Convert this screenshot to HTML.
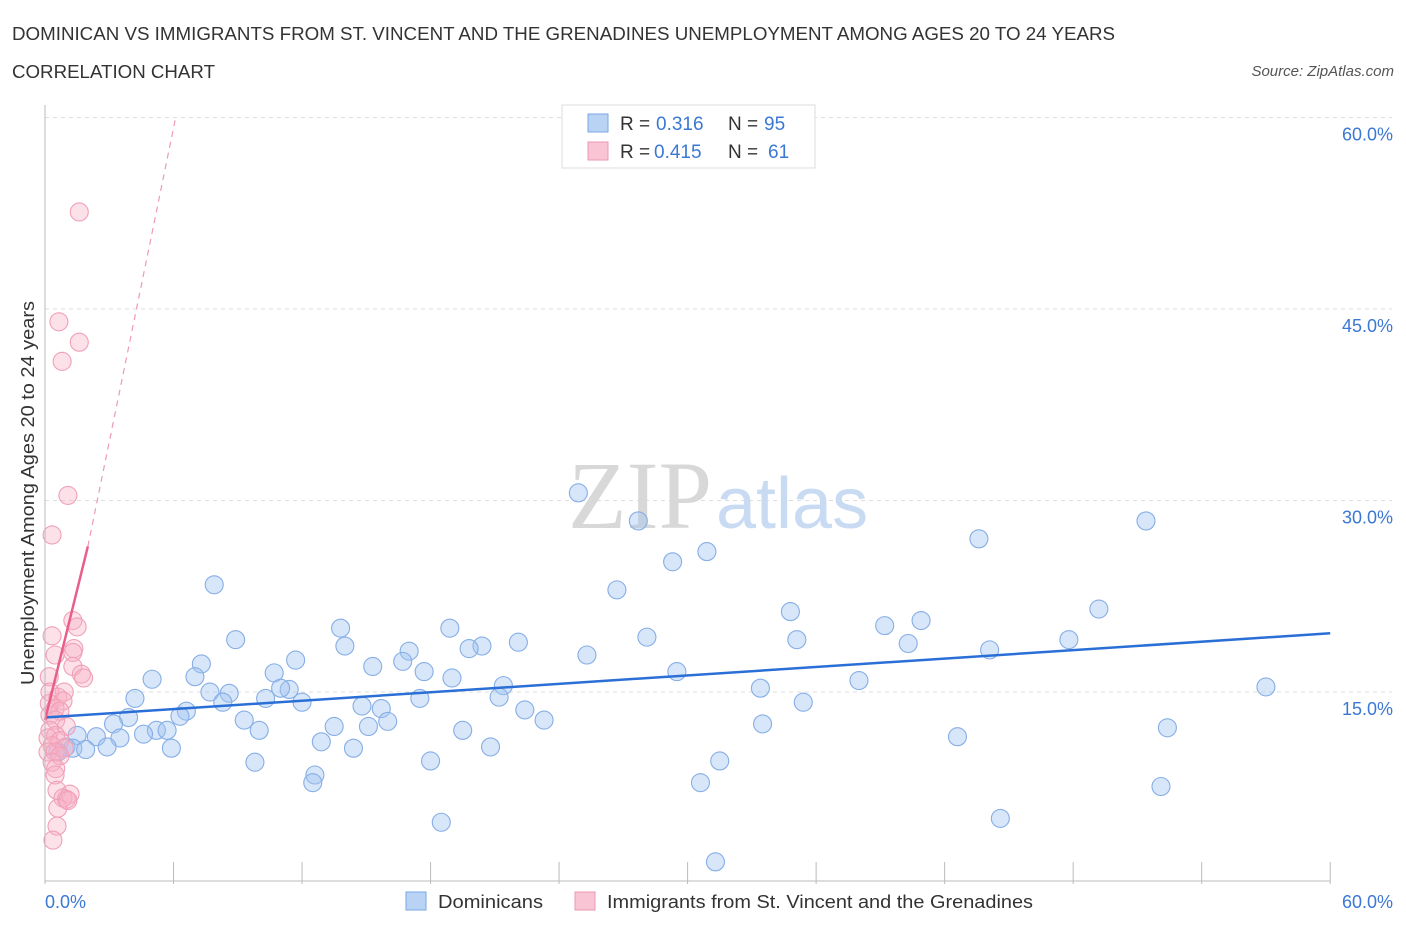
<!DOCTYPE html>
<html><head><meta charset="utf-8"><style>
body{margin:0;background:#fff;font-family:"Liberation Sans",sans-serif;}
</style></head><body>
<svg width="1406" height="930" xmlns="http://www.w3.org/2000/svg">
<text x="12" y="40" font-size="18" fill="#333" textLength="1103" lengthAdjust="spacingAndGlyphs">DOMINICAN VS IMMIGRANTS FROM ST. VINCENT AND THE GRENADINES UNEMPLOYMENT AMONG AGES 20 TO 24 YEARS</text>
<text x="12" y="78" font-size="18" fill="#333" textLength="203" lengthAdjust="spacingAndGlyphs">CORRELATION CHART</text>
<text x="1394" y="76" font-size="15" fill="#555" font-style="italic" text-anchor="end">Source: ZipAtlas.com</text>
<g id="grid"></g>
<text x="712" y="528" font-size="96" fill="#d8d8d8" font-family="Liberation Serif,serif" text-anchor="end">ZIP</text>
<text x="716" y="528" font-size="72" fill="#c9dbf3">atlas</text>
<g id="pts"></g>
<g id="axes"></g>
<text x="34" y="493" font-size="18" fill="#333" text-anchor="middle" transform="rotate(-90 34 493)" textLength="384" lengthAdjust="spacingAndGlyphs">Unemployment Among Ages 20 to 24 years</text>
<text x="45" y="908" font-size="18" fill="#3a78d4">0.0%</text>
<text x="1393" y="908" font-size="18" fill="#3a78d4" text-anchor="end">60.0%</text>
<g>
<rect x="562" y="105" width="253" height="63" fill="#fff" stroke="#ddd"/>
<rect x="588" y="114" width="20" height="18" fill="#b9d3f5" stroke="#7aa6e6"/>
<rect x="588" y="142" width="20" height="18" fill="#f9c4d3" stroke="#ec97b0"/>
<text x="620" y="130" font-size="19" fill="#333">R =</text><text x="656" y="130" font-size="19" fill="#3a78d4">0.316</text>
<text x="728" y="130" font-size="19" fill="#333">N =</text><text x="764" y="130" font-size="19" fill="#3a78d4">95</text>
<text x="620" y="158" font-size="19" fill="#333">R =</text><text x="654" y="158" font-size="19" fill="#3a78d4">0.415</text>
<text x="728" y="158" font-size="19" fill="#333">N =</text><text x="768" y="158" font-size="19" fill="#3a78d4">61</text>
</g>
<g>
<rect x="406" y="892" width="20" height="18" fill="#b9d3f5" stroke="#7aa6e6"/>
<text x="438" y="908" font-size="18" fill="#333" textLength="105" lengthAdjust="spacingAndGlyphs">Dominicans</text>
<rect x="575" y="892" width="20" height="18" fill="#f9c4d3" stroke="#ec97b0"/>
<text x="607" y="908" font-size="18" fill="#333" textLength="426" lengthAdjust="spacingAndGlyphs">Immigrants from St. Vincent and the Grenadines</text>
</g>
</svg>
<script>
const blueX=[24.9,27.7,29.3,30.9,26.7,7.9,43.6,51.4,49.2,34.8,40.9,39.2,13.8,18.9,8.9,28.1,35.1,47.8,40.3,22.1,14.0,20.4,19.8,17.0,25.3,44.1,11.7,16.7,15.3,7.3,17.7,29.5,10.7,7.0,5.0,19.0,38.0,21.4,11.4,11.0,33.4,57.0,7.7,8.6,4.2,10.3,17.5,21.2,12.0,8.3,35.4,6.6,14.8,15.7,22.4,6.3,3.9,9.3,23.3,16.0,3.2,13.5,15.1,33.5,52.4,10.0,5.2,5.7,19.5,1.5,2.4,3.5,4.6,42.6,12.9,0.98,1.3,2.9,1.9,5.9,14.4,20.8,0.6,9.8,18.0,31.5,12.6,12.5,30.6,52.1,18.5,44.6,31.3];
const blueY=[30.6,28.4,25.2,26.0,23.0,23.4,27.0,28.4,21.5,21.3,20.6,20.2,20.0,20.0,19.1,19.3,19.1,19.1,18.8,18.9,18.6,18.6,18.4,18.2,17.9,18.3,17.5,17.4,17.0,17.2,16.6,16.6,16.5,16.2,16.0,16.1,15.9,15.5,15.2,15.3,15.3,15.4,15.0,14.9,14.5,14.5,14.5,14.6,14.2,14.2,14.2,13.5,13.9,13.7,13.6,13.1,13.0,12.8,12.8,12.7,12.5,12.3,12.3,12.5,12.2,12.0,12.0,12.0,12.0,11.6,11.5,11.4,11.7,11.5,11.1,10.7,10.6,10.7,10.5,10.6,10.6,10.7,10.3,9.5,9.6,9.6,8.5,7.9,7.9,7.6,4.8,5.1,1.7];
const pinkX=[1.6,0.65,1.6,0.8,1.07,0.33,1.3,1.5,0.33,1.35,1.3,0.47,1.3,1.7,1.8,0.2,0.9,0.23,0.6,0.84,0.2,0.47,0.7,0.23,0.5,1.0,0.23,0.5,0.14,0.7,0.33,0.9,0.14,0.47,0.7,0.33,0.5,0.47,0.56,1.17,0.84,1.0,0.6,0.56,0.37,1.07];
const pinkY=[52.6,44.0,42.4,40.9,30.4,27.3,20.6,20.1,19.4,18.4,18.1,17.9,17.0,16.4,16.1,16.2,15.0,15.0,14.6,14.3,14.1,13.7,13.5,13.2,12.8,12.3,12.0,11.6,11.4,11.2,10.8,10.6,10.3,10.3,10.0,9.5,9.0,8.5,7.3,7.0,6.7,6.6,5.9,4.5,3.4,6.5];
const yTicks=[15,30,45,60];
const yTickLabels=["15.0%","30.0%","45.0%","60.0%"];
const xTicks=[0,6,12,18,24,30,36,42,48,54,60];
const blueTrend=[[0,13.0],[60,19.6]];
const pinkTrendSolid=[[0,12.8],[2.0,26.4]];
const pinkTrendDash=[[2.0,26.4],[6.1,60]];
const sx=v=>45+v*21.42, sy=v=>117.5+(60-v)*12.767;
const NS="http://www.w3.org/2000/svg";
function mk(t,a,p){const e=document.createElementNS(NS,t);for(const k in a)e.setAttribute(k,a[k]);p.appendChild(e);return e;}
const grid=document.getElementById('grid'),pts=document.getElementById('pts'),axes=document.getElementById('axes');
yTicks.forEach((v,i)=>{const l=mk('line',{x1:45,x2:1392,y1:sy(v),y2:sy(v),stroke:'#ddd','stroke-dasharray':'4 4'},grid);


const t=mk('text',{x:1393,y:sy(v)+23,'font-size':18,fill:'#3a78d4','text-anchor':'end'},grid);t.textContent=yTickLabels[i];

});
const ax=mk('line',{x1:45,x2:1330,y1:881,y2:881,stroke:'#bbb'},axes);


const ay=mk('line',{x1:45,x2:45,y1:105,y2:881,stroke:'#bbb'},axes);


xTicks.forEach(v=>{const l=mk('line',{x1:sx(v),x2:sx(v),y1:862,y2:884,stroke:'#bbb'},axes);

});
blueX.forEach((x,i)=>{const c=mk('circle',{cx:sx(x),cy:sy(blueY[i]),r:9,fill:'rgba(160,196,240,0.42)',stroke:'#86aee6','stroke-width':1.1},pts);

});
pinkX.forEach((x,i)=>{const c=mk('circle',{cx:sx(x),cy:sy(pinkY[i]),r:9,fill:'rgba(246,176,198,0.38)',stroke:'#f0a0b8','stroke-width':1.1},pts);

});
const bl=mk('line',{x1:sx(blueTrend[0][0]),y1:sy(blueTrend[0][1]),x2:sx(blueTrend[1][0]),y2:sy(blueTrend[1][1]),stroke:'#2a6fd6','stroke-width':2.5},pts);


const pl=mk('line',{x1:sx(pinkTrendSolid[0][0]),y1:sy(pinkTrendSolid[0][1]),x2:sx(pinkTrendSolid[1][0]),y2:sy(pinkTrendSolid[1][1]),stroke:'#e8608a','stroke-width':2.5},pts);


const pd=mk('line',{x1:sx(pinkTrendDash[0][0]),y1:sy(pinkTrendDash[0][1]),x2:sx(pinkTrendDash[1][0]),y2:sy(pinkTrendDash[1][1]),stroke:'#ee9ab4','stroke-width':1.2,'stroke-dasharray':'6 5'},pts);


</script>
</body></html>
